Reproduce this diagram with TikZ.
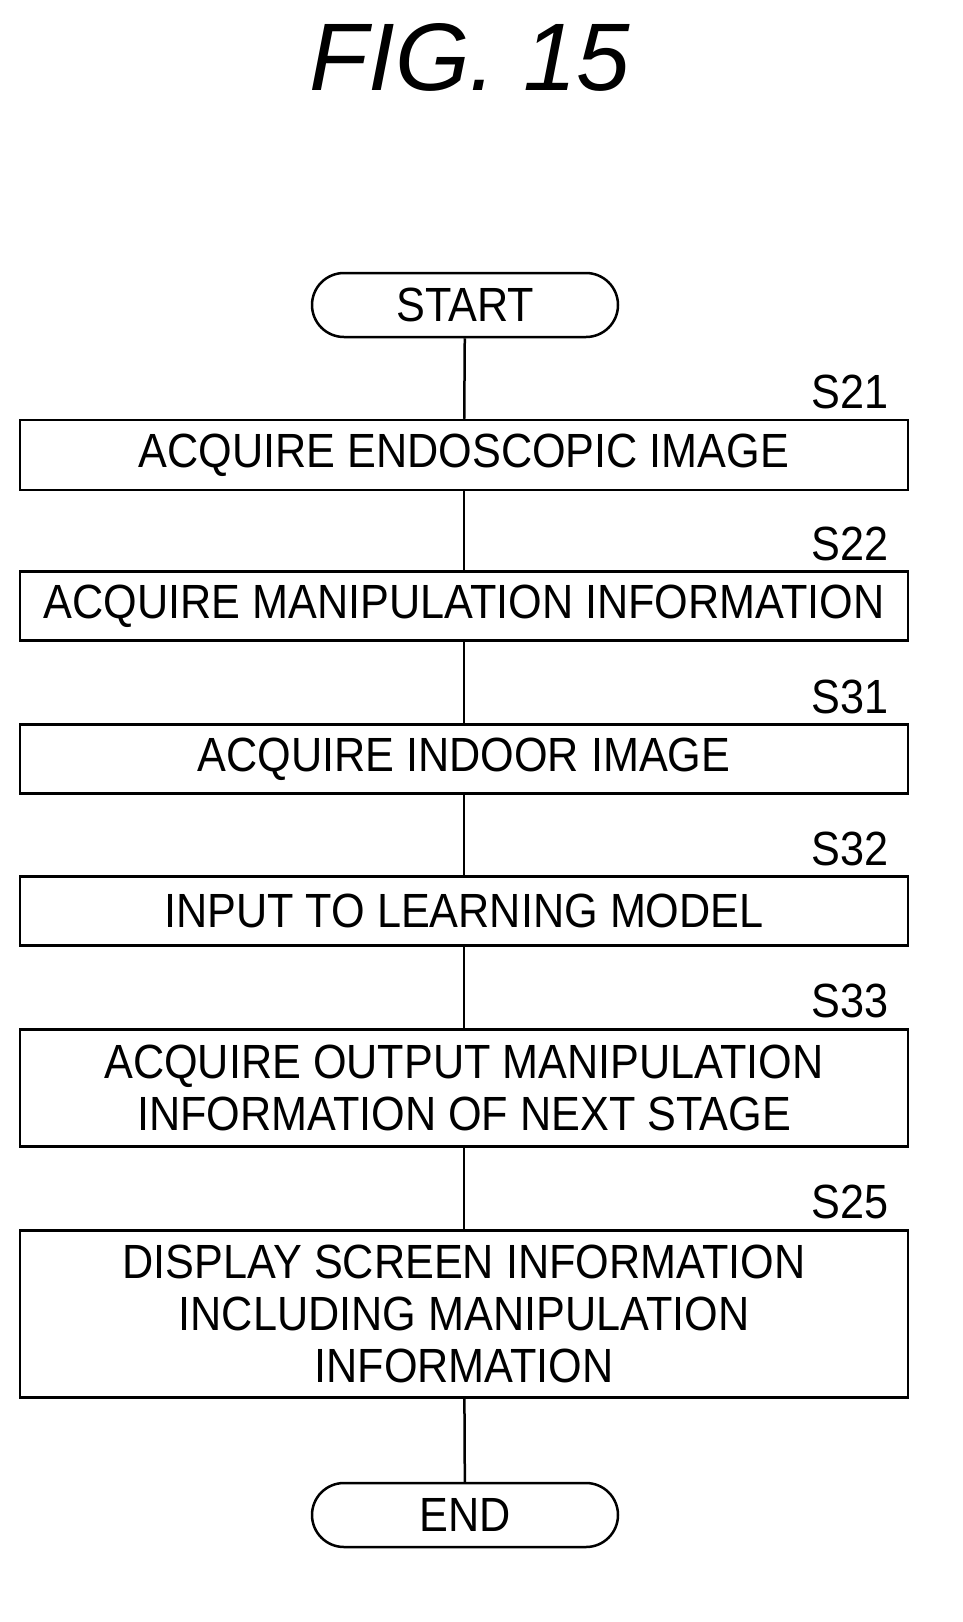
\documentclass[tikz,border=0pt]{standalone}
\usepackage{fontspec}
\setmainfont{Liberation Sans}
\newfontfamily\stepfont[FakeStretch=0.9]{Liberation Sans}
\usetikzlibrary{shapes}
\tikzstyle{stepbox}=[draw,line width=2.5pt,minimum width=888pt,inner sep=0pt,align=center,font=\stepfont\fontsize{48}{52}\selectfont]
\tikzstyle{term}=[draw,line width=2.5pt,rounded corners=32pt,minimum width=306pt,minimum height=64pt,font=\stepfont\fontsize{48}{52}\selectfont]
\tikzstyle{tag}=[anchor=base east,font=\stepfont\fontsize{48}{52}\selectfont]
\tikzstyle{edge}=[draw,line width=2.5pt,-]
\begin{document}
\begin{tikzpicture}[x=1pt,y=-1pt]
      \useasboundingbox (0,0) rectangle (962,1622);
      \node[font=\itshape\fontsize{96}{100}\selectfont] (title) at (470,57) {FIG. 15};
      \node[term] (start) at (465,305) {START};
      \node[stepbox,minimum height=70pt] (s21) at (464,455) {ACQUIRE ENDOSCOPIC IMAGE};
      \node[stepbox,minimum height=69pt] (s22) at (464,606) {ACQUIRE MANIPULATION INFORMATION};
      \node[stepbox,minimum height=69pt] (s31) at (464,759) {ACQUIRE INDOOR IMAGE};
      \node[stepbox,minimum height=69pt] (s32) at (464,911) {INPUT TO LEARNING MODEL};
      \node[stepbox,minimum height=117pt] (s33) at (464,1088) {ACQUIRE OUTPUT MANIPULATION\\INFORMATION OF NEXT STAGE};
      \node[stepbox,minimum height=167pt] (s25) at (464,1314) {DISPLAY SCREEN INFORMATION\\INCLUDING MANIPULATION\\INFORMATION};
      \node[term] (end) at (465,1515) {END};
      \node[tag] (t21) at (892,408) {S21};
      \node[tag] (t22) at (892,560) {S22};
      \node[tag] (t31) at (892,713) {S31};
      \node[tag] (t32) at (892,865) {S32};
      \node[tag] (t33) at (892,1017) {S33};
      \node[tag] (t25) at (892,1218) {S25};
      \draw[edge] (start) -- (s21);
      \draw[edge] (s21) -- (s22);
      \draw[edge] (s22) -- (s31);
      \draw[edge] (s31) -- (s32);
      \draw[edge] (s32) -- (s33);
      \draw[edge] (s33) -- (s25);
      \draw[edge] (s25) -- (end);
\end{tikzpicture}
\end{document}
